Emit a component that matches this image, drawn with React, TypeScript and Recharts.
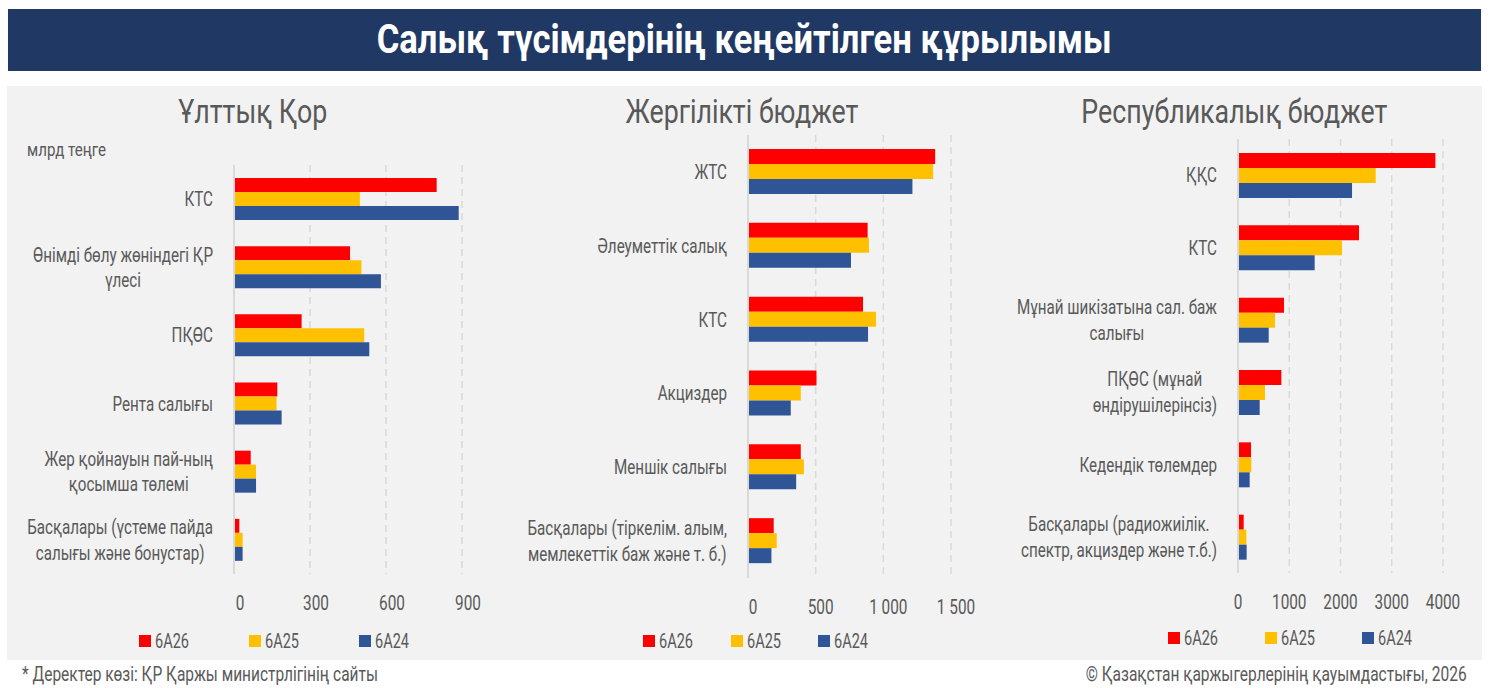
import { Bar, BarChart, CartesianGrid, Legend, XAxis, YAxis } from 'recharts';

const FONT = "Roboto, 'DejaVu Sans', sans-serif";
const INK = '#595959';
const GRID = '#d9d9d9';
const RED = '#ff0000';
const GOLD = '#ffc000';
const BLUE = '#2f5597';

const SERIES = ['6А26', '6А25', '6А24'];

// Ұлттық Қор, млрд теңге
const fundCategories = [
  'КТС',
  'Өнімді бөлу жөніндегі ҚР\nүлесі',
  'ПҚӨС',
  'Рента салығы',
  'Жер қойнауын пай-ның\nқосымша төлемі',
  'Басқалары (үстеме пайда\nсалығы және бонустар)',
];
const fund26 = [800, 458, 267, 171, 66, 21];
const fund25 = [497, 503, 514, 168, 87, 34];
const fund24 = [887, 580, 534, 188, 87, 34];
const fundTicks = [0, 300, 600, 900];

// Жергілікті бюджет
const localCategories = [
  'ЖТС',
  'Әлеуметтік салық',
  'КТС',
  'Акциздер',
  'Меншік салығы',
  'Басқалары (тіркелім. алым,\nмемлекеттік баж және т. б.)',
];
const local26 = [1383, 884, 850, 506, 390, 190];
const local25 = [1368, 894, 946, 390, 413, 212];
const local24 = [1215, 761, 887, 316, 356, 173];
const localTicks = [0, 500, 1000, 1500];

// Республикалық бюджет
const repCategories = [
  'ҚҚС',
  'КТС',
  'Мұнай шикізатына сал. баж\nсалығы',
  'ПҚӨС (мұнай\nөндірушілерінсіз)',
  'Кедендік төлемдер',
  'Басқалары (радиожиілік.\nспектр, акциздер және т.б.)',
];
const rep26 = [3851, 2361, 898, 846, 254, 111];
const rep25 = [2687, 2029, 722, 527, 260, 163];
const rep24 = [2225, 1496, 599, 423, 228, 169];
const repTicks = [0, 1000, 2000, 3000, 4000];

const LABEL_SIZE = 20;
const LINE = 25.5;
const TICK_SIZE = 21;
const LEGEND_SIZE = 21;

let measureCtx: CanvasRenderingContext2D | null = null;
function textWidth(s: string, size: number, weight = 'normal') {
  if (!measureCtx) measureCtx = document.createElement('canvas').getContext('2d');
  if (!measureCtx) return s.length * size * 0.5;
  measureCtx.font = `${weight} ${size}px ${FONT}`;
  return measureCtx.measureText(s).width;
}

// the source uses a condensed face; squeeze Roboto horizontally to match
function squeeze(sample: string, size: number, target: number, weight = 'normal') {
  const k = target / textWidth(sample, size, weight);
  return Math.min(1, Math.max(0.6, k));
}

// multi-line label, lines centred on each other, block right-aligned to the axis
function CategoryTick(props: any) {
  const { x, y, payload, gap, k } = props;
  const lines = String(payload.value).split('\n');
  const w = Math.max(...lines.map((l) => textWidth(l, LABEL_SIZE))) * k;
  const cx = x - gap - w / 2;
  const top = -((lines.length - 1) * LINE) / 2 + LABEL_SIZE * 0.35;
  return (
    <text
      transform={`translate(${cx} ${y}) scale(${k} 1)`}
      textAnchor="middle"
      fill={INK}
      fontSize={LABEL_SIZE}
      fontFamily={FONT}
    >
      {lines.map((l, i) => (
        <tspan key={i} x={0} y={top + i * LINE}>
          {l}
        </tspan>
      ))}
    </text>
  );
}

function ValueTick(props: any) {
  const { x, y, payload, dx, format, k } = props;
  return (
    <text
      transform={`translate(${x + dx} ${y + 28.7 + TICK_SIZE * 0.35}) scale(${k} 1)`}
      textAnchor="middle"
      fill={INK}
      fontSize={TICK_SIZE}
      fontFamily={FONT}
    >
      {format(payload.value)}
    </text>
  );
}

function SeriesLegend(props: any) {
  const { payload, step, k } = props;
  const items = [...(payload || [])].sort((a: any, b: any) => SERIES.indexOf(a.value) - SERIES.indexOf(b.value));
  return (
    <div style={{ display: 'flex', height: 20 }}>
      {items.map((p: any) => (
        <div key={p.value} style={{ width: step, display: 'flex', alignItems: 'center', gap: 4 }}>
          <span style={{ width: 12, height: 12, background: p.color, display: 'inline-block', flex: 'none' }} />
          <span
            style={{
              fontSize: LEGEND_SIZE,
              color: INK,
              fontFamily: FONT,
              lineHeight: '20px',
              display: 'inline-block',
              whiteSpace: 'nowrap',
              transform: `scaleX(${k})`,
              transformOrigin: 'left center',
            }}
          >
            {p.value}
          </span>
        </div>
      ))}
    </div>
  );
}

const plain = (v: number) => String(v);
const spaced = (v: number) => String(v).replace(/\B(?=(\d{3})+(?!\d))/g, ' ');

interface PanelProps {
  left: number;
  width: number;
  categories: string[];
  a: number[];
  b: number[];
  c: number[];
  ticks: number[];
  margin: { top: number; right: number; bottom: number; left: number };
  axisWidth: number;
  barSize: number;
  tickDx: number;
  format: (v: number) => string;
  legendLeft: number;
  legendTop: number;
  legendStep: number;
  labelK: number;
  tickK: number;
  legendK: number;
}

function Panel(p: PanelProps) {
  const data = p.categories.map((name, i) => ({ name, y26: p.a[i], y25: p.b[i], y24: p.c[i] }));
  return (
    <div style={{ position: 'absolute', left: p.left, top: 86 }}>
      <BarChart
        width={p.width}
        height={574}
        data={data}
        layout="vertical"
        margin={p.margin}
        barGap={0}
        barSize={p.barSize}
      >
        <CartesianGrid horizontal={false} stroke={GRID} strokeWidth={1.5} strokeDasharray="7 5" />
        <XAxis
          type="number"
          domain={[0, p.ticks[p.ticks.length - 1]]}
          ticks={p.ticks}
          axisLine={false}
          tickLine={false}
          tickSize={0}
          tickMargin={0}
          height={30}
          tick={(t: any) => <ValueTick {...t} dx={p.tickDx} format={p.format} k={p.tickK} />}
        />
        <YAxis
          type="category"
          dataKey="name"
          width={p.axisWidth}
          tickLine={false}
          tickSize={0}
          tickMargin={0}
          axisLine={{ stroke: GRID, strokeWidth: 2 }}
          interval={0}
          tick={(t: any) => <CategoryTick {...t} gap={21} k={p.labelK} />}
        />
        <Legend
          layout="horizontal"
          verticalAlign="middle"
          align="center"
          wrapperStyle={{ left: p.legendLeft, top: p.legendTop, width: p.legendStep * 3 }}
          content={(lp: any) => <SeriesLegend {...lp} step={p.legendStep} k={p.legendK} />}
        />
        <Bar dataKey="y26" name={SERIES[0]} fill={RED} isAnimationActive={false} />
        <Bar dataKey="y25" name={SERIES[1]} fill={GOLD} isAnimationActive={false} />
        <Bar dataKey="y24" name={SERIES[2]} fill={BLUE} isAnimationActive={false} />
      </BarChart>
    </div>
  );
}

function Squeezed(props: {
  text: string;
  size: number;
  k: number;
  weight?: string;
  color?: string;
  style: React.CSSProperties;
  origin: string;
}) {
  return (
    <div style={{ position: 'absolute', whiteSpace: 'nowrap', ...props.style }}>
      <span
        style={{
          display: 'inline-block',
          fontSize: props.size,
          fontWeight: props.weight || 'normal',
          color: props.color || INK,
          transform: `scaleX(${props.k})`,
          transformOrigin: props.origin,
        }}
      >
        {props.text}
      </span>
    </div>
  );
}

const TITLE = 'Салық түсімдерінің кеңейтілген құрылымы';
const SOURCE = '* Деректер көзі: ҚР Қаржы министрлігінің сайты';
const COPYRIGHT = '© Қазақстан қаржыгерлерінің қауымдастығы, 2026';

export default function App() {
  const labelK = squeeze('Өнімді бөлу жөніндегі ҚР', LABEL_SIZE, 180);
  const tickK = squeeze('4000', TICK_SIZE, 34.5);
  const legendK = squeeze('6А25', LEGEND_SIZE, 34);
  const titleK = squeeze(TITLE, 40, 735, 'bold');
  const headK = squeeze('Республикалық бюджет', 34, 306);
  const unitK = squeeze('млрд теңге', 18, 79);
  const sourceK = squeeze(SOURCE, 20, 356);
  const copyK = squeeze(COPYRIGHT, 20, 381);

  const head = (cx: number, text: string) => (
    <Squeezed
      text={text}
      size={34}
      k={headK}
      origin="center center"
      style={{ left: cx - 250, width: 500, top: 91, lineHeight: '40px', textAlign: 'center' }}
    />
  );

  return (
    <div
      style={{
        position: 'absolute',
        left: 0,
        top: 0,
        width: 1489,
        height: 688,
        background: '#ffffff',
        fontFamily: FONT,
        overflow: 'hidden',
      }}
    >
      <div
        style={{
          position: 'absolute',
          left: 8,
          top: 9,
          width: 1473,
          height: 62,
          background: '#203864',
        }}
      />
      <Squeezed
        text={TITLE}
        size={40}
        k={titleK}
        weight="bold"
        color="#ffffff"
        origin="center center"
        style={{ left: 8, width: 1473, top: 9, lineHeight: '62px', textAlign: 'center' }}
      />
      <div style={{ position: 'absolute', left: 7, top: 86, width: 1475, height: 574, background: '#f2f2f2' }} />

      {head(253, 'Ұлттық Қор')}
      {head(742, 'Жергілікті бюджет')}
      {head(1234, 'Республикалық бюджет')}
      <Squeezed
        text="млрд теңге"
        size={18}
        k={unitK}
        origin="left center"
        style={{ left: 27, top: 139, lineHeight: '22px' }}
      />

      <Panel
        left={0}
        width={490}
        categories={fundCategories}
        a={fund26}
        b={fund25}
        c={fund24}
        ticks={fundTicks}
        margin={{ top: 79, right: 28, bottom: 56, left: 0 }}
        axisWidth={234}
        barSize={14}
        tickDx={6}
        format={plain}
        legendLeft={139}
        legendTop={545}
        legendStep={110}
        labelK={labelK}
        tickK={tickK}
        legendK={legendK}
      />
      <Panel
        left={490}
        width={490}
        categories={localCategories}
        a={local26}
        b={local25}
        c={local24}
        ticks={localTicks}
        margin={{ top: 49, right: 29, bottom: 52, left: 0 }}
        axisWidth={258}
        barSize={15}
        tickDx={5}
        format={spaced}
        legendLeft={153}
        legendTop={545}
        legendStep={87.5}
        labelK={labelK}
        tickK={tickK}
        legendK={legendK}
      />
      <Panel
        left={980}
        width={502}
        categories={repCategories}
        a={rep26}
        b={rep25}
        c={rep24}
        ticks={repTicks}
        margin={{ top: 53, right: 39, bottom: 57, left: 0 }}
        axisWidth={258}
        barSize={15}
        tickDx={0}
        format={plain}
        legendLeft={188}
        legendTop={542}
        legendStep={97}
        labelK={labelK}
        tickK={tickK}
        legendK={legendK}
      />

      <Squeezed
        text={SOURCE}
        size={20}
        k={sourceK}
        origin="left center"
        style={{ left: 22, top: 662, lineHeight: '24px' }}
      />
      <Squeezed
        text={COPYRIGHT}
        size={20}
        k={copyK}
        origin="right center"
        style={{ right: 1489 - 1467, top: 662, lineHeight: '24px' }}
      />
    </div>
  );
}
